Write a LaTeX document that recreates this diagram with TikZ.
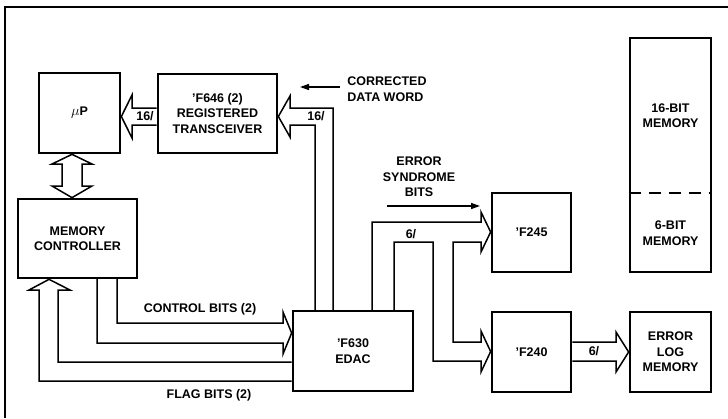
\documentclass[tikz,border=0pt]{standalone}
\usepackage{fontspec}
\setmainfont{Liberation Sans}
\usetikzlibrary{arrows.meta}
\begin{document}
\begin{tikzpicture}[x=1pt,y=-1pt,
  lbl/.style={font=\fontsize{12.5}{15.5}\selectfont\bfseries, align=center, inner sep=0pt},
  blk/.style={draw, line width=2.7pt, lbl, anchor=center},
  bus/.style={draw, line width=1.5pt, line join=miter},
  thin/.style={draw, line width=1.4pt, -{Triangle[length=9pt,width=6pt]}}]
\useasboundingbox (0,0) rectangle (728,418);
% frame
\draw[line width=2.2pt] (5,418) -- (5,7) -- (728,7);
% boxes
\node[blk, minimum width=81pt, minimum height=80pt] (up) at (79.5,113) {{\fontsize{14}{14}\selectfont$\mu$}P};
\node[blk, minimum width=119pt, minimum height=79pt] (tr) at (217.5,113.5) {'F646 (2)\\REGISTERED\\TRANSCEIVER};
\node[blk, minimum width=119pt, minimum height=79pt] (mc) at (77.5,238.5) {MEMORY\\CONTROLLER};
\node[blk, minimum width=120pt, minimum height=80pt] (edac) at (353,351) {'F630\\EDAC};
\node[blk, minimum width=79pt, minimum height=79pt] (f245) at (531.5,232.5) {'F245};
\node[blk, minimum width=79pt, minimum height=80pt] (f240) at (531.5,352) {'F240};
\node[blk, minimum width=81pt, minimum height=234pt] (mem) at (670.5,155) {};
\node[blk, minimum width=81pt, minimum height=80pt] (elog) at (670.5,352) {ERROR\\LOG\\MEMORY};
\draw[line width=1.5pt, dash pattern=on 12pt off 8pt] (mem.west |- 0,193) -- (mem.east |- 0,193);
\node[lbl] (m16) at (670.5,115.5) {16-BIT\\MEMORY};
\node[lbl] (m6) at (670.5,233) {6-BIT\\MEMORY};
% hollow bus arrows
\path[bus] (tr.west |- 0,108) -- (132,108) -- (132,95) -- (up.east |- 0,116.5) -- (132,138) -- (132,125) -- (tr.west |- 0,125);
\path[bus] (333,311) -- (333,108) -- (290,108) -- (290,96) -- (tr.east |- 0,116.5) -- (290,137) -- (290,125) -- (315,125) -- (315,311);
\path[bus] (62,186) -- (62,164) -- (52,164) -- (up.south -| 72,0) -- (92,164) -- (82,164) -- (82,186) -- (92,186) -- (mc.north -| 72,0) -- (52,186) -- cycle;
\path[bus] (117,278) -- (117,323) -- (283,323) -- (283,312) -- (edac.west |- 0,333) -- (283,354) -- (283,343) -- (97,343) -- (97,278);
\path[bus] (edac.west |- 0,362) -- (58,362) -- (58,290) -- (70,290) -- (mc.south -| 49,0) -- (29,290) -- (39,290) -- (39,381) -- (edac.west |- 0,381);
\path[bus] (372,311) -- (372,222) -- (481,222) -- (481,212) -- (f245.west |- 0,232) -- (481,252) -- (481,242) -- (453,242) -- (453,342) -- (481,342) -- (481,331) -- (f240.west |- 0,351.5) -- (481,372) -- (481,361) -- (433,361) -- (433,242) -- (394,242) -- (394,311);
\path[bus] (f240.east |- 0,342) -- (616,342) -- (616,332) -- (elog.west |- 0,352) -- (616,372) -- (616,361) -- (f240.east |- 0,361);
% labels
\node[lbl] (l16a) at (145,116) {16/};
\node[lbl] (l16b) at (316,116) {16/};
\node[lbl, align=left] (corr) at (387,89) {CORRECTED\\DATA WORD};
\coordinate (ca) at (340,87);
\coordinate (cb) at (300,87);
\draw[thin] (ca) -- (cb);
\node[lbl] (esb) at (419,177) {ERROR\\SYNDROME\\BITS};
\coordinate (ea) at (387,206);
\coordinate (eb) at (480,206);
\draw[thin] (ea) -- (eb);
\node[lbl] (l6a) at (411,234) {6/};
\node[lbl] (l6b) at (594,351) {6/};
\node[lbl] (ctl) at (200,309) {CONTROL BITS (2)};
\node[lbl] (flg) at (209,395) {FLAG BITS (2)};
\end{tikzpicture}
\end{document}
